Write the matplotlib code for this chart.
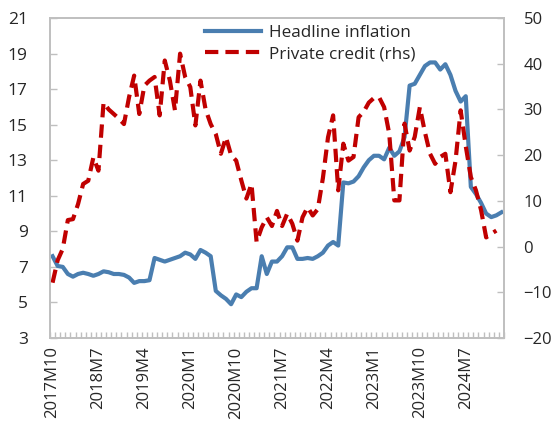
import matplotlib
matplotlib.use("Agg")
import matplotlib.pyplot as plt

# monthly data, 2017M10 onwards
start_year, start_month = 2017, 10

headline = [
    7.6, 7.05, 7.0, 6.6, 6.45, 6.6, 6.67, 6.6, 6.5, 6.6,
    6.75, 6.7, 6.6, 6.6, 6.55, 6.4, 6.1, 6.2, 6.2, 6.25,
    7.5, 7.4, 7.3, 7.4, 7.5, 7.6, 7.8, 7.7, 7.45, 7.95,
    7.8, 7.6, 5.65, 5.4, 5.2, 4.9, 5.45, 5.3, 5.6, 5.8,
    5.8, 7.6, 6.6, 7.3, 7.3, 7.6, 8.1, 8.1, 7.45, 7.45,
    7.5, 7.45, 7.6, 7.8, 8.2, 8.4, 8.2, 11.75, 11.7, 11.8,
    12.1, 12.6, 13.0, 13.25, 13.25, 13.05, 13.7, 13.25, 13.5, 14.3,
    17.2, 17.3, 17.8, 18.3, 18.5, 18.5, 18.1, 18.4, 17.8, 16.9,
    16.3, 16.6, 11.5, 11.1, 10.6, 10.0, 9.8, 9.9, 10.07,
]

private_credit = [
    -7.9, -3.0, -0.5, 5.8, 6.0, 9.3, 13.7, 14.4, 19.5, 16.6,
    31.5, 30.0, 29.0, 28.0, 26.8, 32.7, 37.4, 29.0, 35.2, 36.3,
    37.1, 28.7, 40.7, 36.3, 29.8, 42.2, 37.1, 34.9, 26.5, 36.3,
    30.0, 26.8, 24.6, 20.3, 23.9, 20.0, 18.8, 14.5, 10.5, 13.7,
    1.0, 4.2, 6.4, 4.5, 7.8, 4.5, 7.2, 5.0, 1.3, 6.4,
    8.6, 6.8, 8.2, 15.0, 23.9, 28.7, 12.3, 22.5, 18.8, 19.6,
    28.3, 29.5, 31.5, 32.5, 32.7, 30.5, 24.7, 10.1, 10.1, 26.9,
    21.0, 24.0, 30.5, 25.0, 20.3, 18.1, 19.6, 20.3, 11.9, 18.8,
    29.8, 22.0, 15.2, 12.3, 8.0, 2.0, 2.8, 3.5,
]


def month_label(i):
    m = start_month - 1 + i
    return f"{start_year + m // 12}M{m % 12 + 1}"


n = len(headline)
x_head = list(range(n))
x_cred = list(range(len(private_credit)))
label_pos = list(range(0, n, 9))
labels = [month_label(i) for i in label_pos]

plt.rcParams["font.family"] = ["Open Sans", "DejaVu Sans"]
text_color = "#262626"
frame_color = "#bfbfbf"

fig = plt.figure(figsize=(5.53, 4.26), dpi=100)
ax = fig.add_axes([50 / 553, 1 - 338 / 426, 454 / 553, 320 / 426])
ax2 = ax.twinx()

l1, = ax.plot(x_head, headline, color="#4a7eb0", lw=3.0,
              solid_joinstyle="round", label="Headline inflation")
l2, = ax2.plot(x_cred, private_credit, color="#c00000", lw=3.0,
               dashes=(3.2, 1.7), dash_capstyle="butt",
               label="Private credit (rhs)")

ax.set_xlim(-0.5, n - 0.5)
ax.set_ylim(3, 21)
ax.set_yticks(range(3, 22, 2))
ax2.set_ylim(-20, 50)
ax2.set_yticks(range(-20, 51, 10))

ax.set_xticks(label_pos)
ax.set_xticklabels(labels, rotation=90)
ax.set_xticks([i - 0.5 for i in range(n + 1)], minor=True)
ax.tick_params(axis="x", which="major", length=0, pad=6)
ax.tick_params(axis="x", which="minor", direction="in", length=4,
               color=frame_color, width=1)

ax.tick_params(axis="y", direction="in", length=5, color=frame_color,
               width=1, pad=16)
ax2.tick_params(axis="y", direction="in", length=5, color=frame_color,
                width=1, pad=14)
for a in (ax, ax2):
    a.tick_params(labelsize=12.5, labelcolor=text_color)
    for s in a.spines.values():
        s.set_color(frame_color)
        s.set_linewidth(1.2)
ax2.tick_params(axis="y", labelsize=12)
ax.tick_params(axis="x", labelsize=12)

leg = ax2.legend(handles=[l1, l2], loc="upper left",
                 bbox_to_anchor=(0.318, 1.01), frameon=False,
                 fontsize=12.3, handlelength=3.3, handletextpad=0.45,
                 labelspacing=0.3, borderaxespad=0.2)
for t in leg.get_texts():
    t.set_color(text_color)

fig.savefig("out.png", dpi=100)
